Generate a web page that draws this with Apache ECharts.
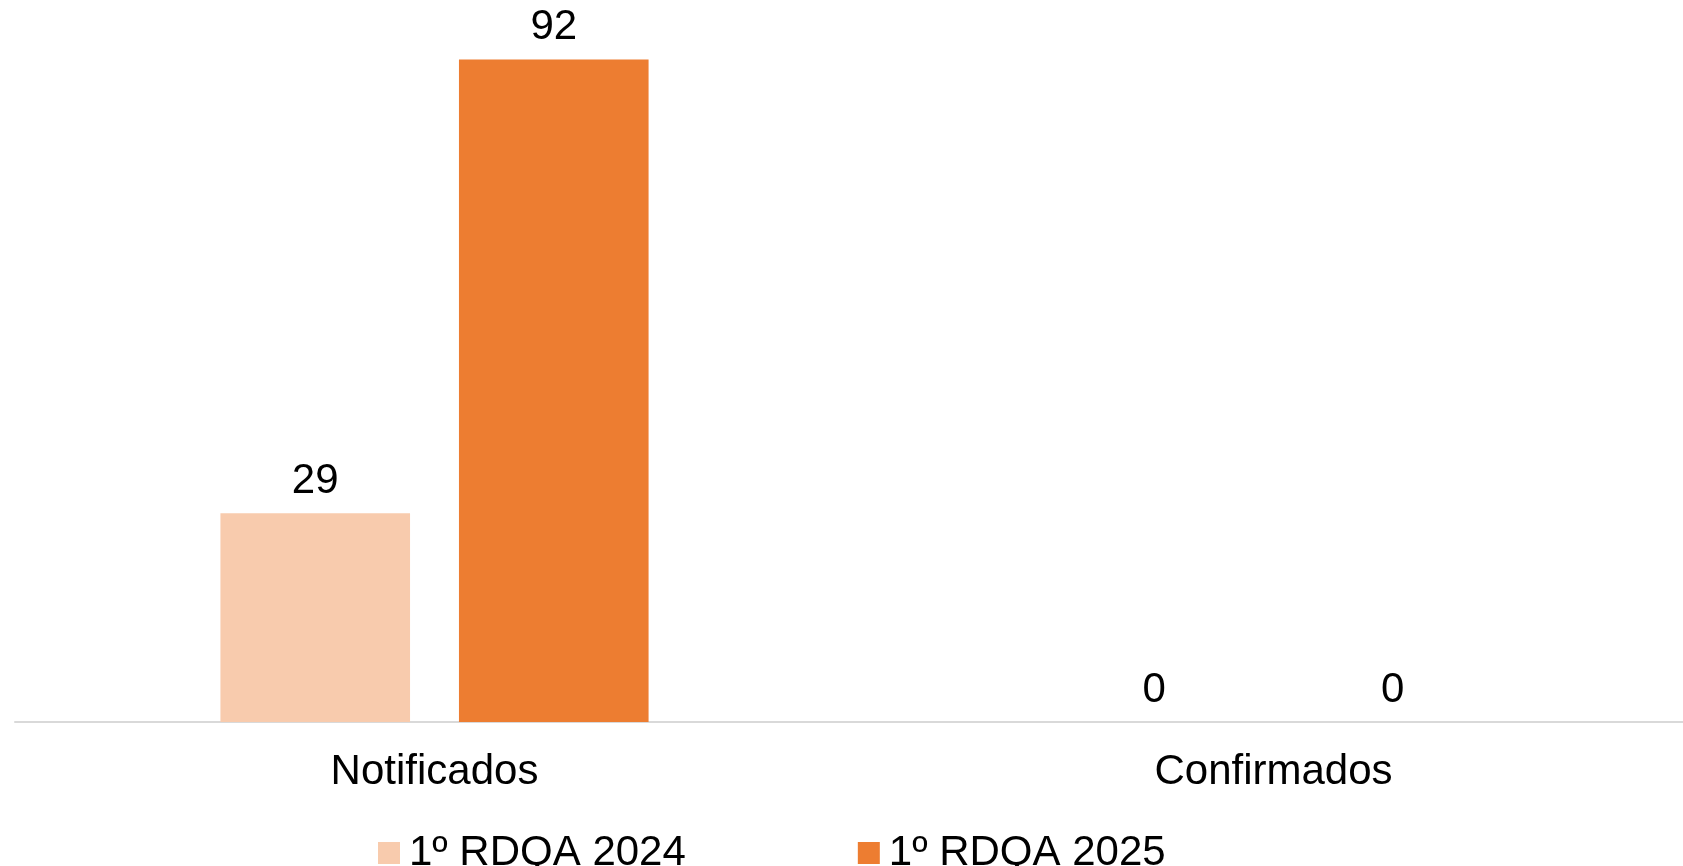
<!DOCTYPE html>
<html>
<head>
<meta charset="utf-8">
<script src="https://cdn.jsdelivr.net/npm/echarts@6/dist/echarts.min.js"></script>
<style>
html,body{margin:0;padding:0;background:#fff;}
#chart{width:1683px;height:866px;}
</style>
</head>
<body>
<div id="chart"></div>
<script>
var categories = ['Notificados', 'Confirmados'];
var seriesNames = ['1º RDQA 2024', '1º RDQA 2025'];
var values2024 = [29, 0];
var values2025 = [92, 0];

var FONT = '"Liberation Sans", Arial, sans-serif';
var chart = echarts.init(document.getElementById('chart'));
var labelCfg = {
  show: true, position: 'top', distance: 11,
  color: '#000', fontSize: 42, fontFamily: FONT
};
chart.setOption({
  animation: false,
  backgroundColor: '#ffffff',
  grid: { left: 15, right: -10, top: 2, bottom: 144, containLabel: false, outerBoundsMode: 'none' },
  legend: {
    left: 373, top: 827,
    itemWidth: 22, itemHeight: 22, itemGap: 172,
    icon: 'rect',
    textStyle: { fontSize: 42, color: '#000', fontFamily: FONT, padding: [0, 0, 0, 4] },
    data: seriesNames
  },
  xAxis: {
    type: 'category',
    data: categories,
    axisLine: { show: true, lineStyle: { color: '#d9d9d9', width: 2 } },
    axisTick: { show: false },
    axisLabel: { color: '#000', fontSize: 42, fontFamily: FONT, margin: 29 }
  },
  yAxis: {
    type: 'value', min: 0, max: 100,
    show: false,
    splitLine: { show: false }
  },
  series: [
    {
      name: seriesNames[0], type: 'bar', data: values2024,
      barWidth: '22.6%', barGap: '25.8%',
      itemStyle: { color: '#F8CBAD' },
      label: labelCfg
    },
    {
      name: seriesNames[1], type: 'bar', data: values2025,
      barWidth: '22.6%', barGap: '25.8%',
      itemStyle: { color: '#ED7D31' },
      label: labelCfg
    }
  ]
});
</script>
</body>
</html>
